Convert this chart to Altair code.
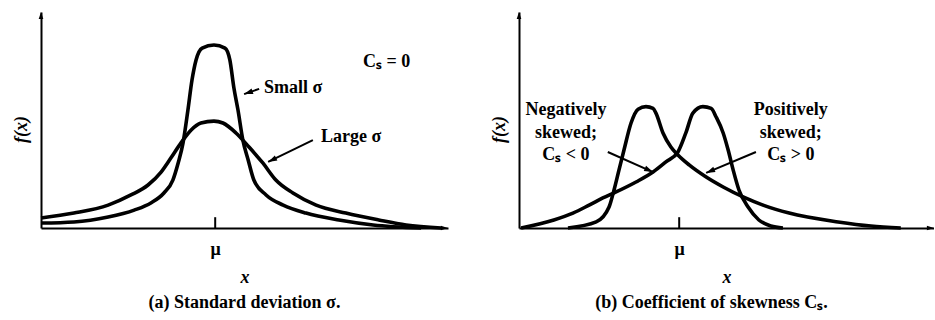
import altair as alt
import pandas as pd
import numpy as np

FONT = "Liberation Serif"

# ---------------- Panel (a): standard deviation ----------------
small_x = [0.0, 8.1, 16.5, 22.9, 27.0, 30.2, 32.4, 33.7, 34.9, 36.1, 37.1, 38.1, 39.6, 42.5,
           45.2, 46.4, 47.4, 48.4, 49.6, 50.9, 52.3, 55.3, 59.5, 65.1, 73.2, 81.6, 93.4]
small_y = [2.3, 2.8, 5.1, 8.3, 11.6, 16.2, 22.2, 30.1, 39.4, 54.6, 68.5, 77.8, 83.3, 84.7,
           83.3, 77.8, 64.8, 54.6, 40.7, 31.5, 22.2, 15.3, 10.6, 6.9, 3.7, 1.4, 0.0]
large_x = [0.0, 8.1, 16.5, 22.1, 26.3, 29.5, 31.9, 34.4, 36.9, 39.3, 42.5, 44.7, 47.9,
           51.1, 54.5, 57.7, 61.9, 67.6, 74.9, 83.0, 89.7, 98.3]
large_y = [4.6, 6.9, 10.6, 15.3, 19.9, 25.9, 32.4, 39.4, 45.4, 48.6, 49.5, 48.6, 44.0,
           37.5, 30.1, 22.2, 16.2, 10.6, 6.9, 3.7, 1.4, 0.0]
mu_a = 42.8

# ---------------- Panel (b): skewness ----------------
pos_x = [11.8, 18.6, 21.7, 22.9, 24.1, 25.3, 27.0, 28.7, 30.6, 32.3, 33.0, 34.7, 36.6,
         38.3, 41.0, 45.1, 49.2, 54.0, 58.8, 65.1, 76.9, 84.8, 92.0]
pos_y = [0.0, 2.8, 9.7, 17.6, 26.9, 36.1, 48.6, 55.0, 56.2, 55.4, 53.2, 44.0, 37.5,
         33.8, 29.2, 23.6, 19.0, 14.4, 10.6, 6.9, 2.8, 0.9, 0.0]
neg_x = [0.5, 8.4, 13.0, 16.9, 20.2, 23.4, 28.2, 32.3, 35.4, 38.3, 40.2, 41.9, 44.3,
         46.3, 47.5, 49.2, 50.4, 51.6, 53.0, 55.2, 57.8, 60.7, 63.6]
neg_y = [0.0, 3.7, 6.9, 10.6, 13.9, 16.7, 21.3, 25.9, 30.6, 35.2, 44.0, 53.2, 56.2,
         55.4, 51.4, 44.0, 36.1, 26.9, 17.6, 9.7, 3.7, 0.9, 0.0]
mu_b = 38.6

# annotation texts and anchors (data units)
a_text = ["Cₛ = 0", "Small σ", "Large σ"]
a_tx = [79.1, 54.8, 68.8]
a_ty = [76.9, 64.8, 42.1]
a_arrow_x1 = [53.6, 66.8]
a_arrow_y1 = [64.4, 40.7]
a_arrow_x2 = [49.9, 55.8]
a_arrow_y2 = [62.0, 30.6]

b_text = ["Negatively", "skewed;", "Cₛ < 0", "Positively", "skewed;", "Cₛ > 0"]
b_tx = [11.3, 11.3, 11.3, 65.5, 65.5, 65.5]
b_ty = [54.6, 44.0, 33.8, 54.6, 44.0, 33.8]
b_arrow_x1 = [21.4, 57.1]
b_arrow_y1 = [35.2, 35.2]
b_arrow_x2 = [32.3, 45.1]
b_arrow_y2 = [25.9, 25.5]

W_A, W_B, H = 407, 415, 216
HEAD = "M0,0L-0.55,1.7L0.55,1.7Z"

xs = alt.Scale(domain=[0, 100], nice=False, zero=False)
ys = alt.Scale(domain=[0, 100], nice=False, zero=False)


def xaxis(mu):
    return alt.Axis(values=[mu], labelExpr="'μ'", ticks=False, grid=False,
                    domainColor="black", domainWidth=2, labelFont=FONT,
                    labelFontWeight="bold", labelFontSize=18, labelColor="black",
                    labelPadding=12, title="x", titleFont=FONT, titleFontStyle="italic",
                    titleFontWeight="bold", titleFontSize=18, titleColor="black",
                    titlePadding=10)


yaxis = alt.Axis(labels=False, ticks=False, grid=False, domainColor="black",
                 domainWidth=2, title="f(x)", titleFont=FONT, titleFontStyle="italic",
                 titleFontWeight="bold", titleFontSize=18, titleColor="black",
                 titlePadding=11, titleY=117)


def arrows_df(x1, y1, x2, y2, w):
    d = pd.DataFrame({"x1": x1, "y1": y1, "x2": x2, "y2": y2})
    sx = (d.x2 - d.x1) * w / 100.0
    sy = (d.y2 - d.y1) * H / 100.0
    d["angle"] = np.degrees(np.arctan2(sx, sy)) % 360
    return d


def panel(curve_df, mu, texts, arrows, w, caption, tdx, text_align):
    base_x = alt.X("x:Q", scale=xs, axis=xaxis(mu))
    base_y = alt.Y("y:Q", scale=ys, axis=yaxis)
    curves = alt.Chart(curve_df).mark_line(
        color="black", strokeWidth=3.6, interpolate="monotone"
    ).encode(x=base_x, y=base_y, detail="curve:N", order="i:Q")

    tick = alt.Chart(pd.DataFrame({"x": [mu], "y": [0], "y2": [5]})).mark_rule(
        color="black", strokeWidth=2
    ).encode(x=alt.X("x:Q", scale=xs), y=alt.Y("y:Q", scale=ys), y2="y2:Q")

    axis_heads = alt.Chart(pd.DataFrame({"x": [0, 100], "y": [100, 0], "angle": [0, 90]})).mark_point(
        shape=HEAD, filled=True, color="black", opacity=1, size=70, strokeWidth=0
    ).encode(x=alt.X("x:Q", scale=xs), y=alt.Y("y:Q", scale=ys),
             angle=alt.Angle("angle:Q", scale=None))

    shafts = alt.Chart(arrows).mark_rule(color="black", strokeWidth=2).encode(
        x=alt.X("x1:Q", scale=xs), y=alt.Y("y1:Q", scale=ys), x2="x2:Q", y2="y2:Q")
    heads = alt.Chart(arrows).mark_point(
        shape=HEAD, filled=True, color="black", opacity=1, size=110, strokeWidth=0
    ).encode(x=alt.X("x2:Q", scale=xs), y=alt.Y("y2:Q", scale=ys),
             angle=alt.Angle("angle:Q", scale=None))

    labels = alt.Chart(texts).mark_text(
        font=FONT, fontWeight="bold", fontSize=18, color="black",
        align=text_align, baseline="middle"
    ).encode(x=alt.X("x:Q", scale=xs), y=alt.Y("y:Q", scale=ys), text="t:N")

    return alt.layer(curves, tick, axis_heads, shafts, heads, labels).properties(
        width=w, height=H,
        title=alt.TitleParams(caption, orient="bottom", anchor="middle", font=FONT,
                              fontSize=18, fontWeight="bold", color="black",
                              offset=8, dx=tdx),
    )


curve_a = pd.concat([
    pd.DataFrame({"x": small_x, "y": small_y, "curve": "small", "i": range(len(small_x))}),
    pd.DataFrame({"x": large_x, "y": large_y, "curve": "large", "i": range(len(large_x))}),
])
curve_b = pd.concat([
    pd.DataFrame({"x": pos_x, "y": pos_y, "curve": "pos", "i": range(len(pos_x))}),
    pd.DataFrame({"x": neg_x, "y": neg_y, "curve": "neg", "i": range(len(neg_x))}),
])

texts_a = pd.DataFrame({"t": a_text, "x": a_tx, "y": a_ty})
texts_b = pd.DataFrame({"t": b_text, "x": b_tx, "y": b_ty})

pa = panel(curve_a, mu_a, texts_a,
           arrows_df(a_arrow_x1, a_arrow_y1, a_arrow_x2, a_arrow_y2, W_A),
           W_A, "(a) Standard deviation σ.", 0, "left")
pb = panel(curve_b, mu_b, texts_b,
           arrows_df(b_arrow_x1, b_arrow_y1, b_arrow_x2, b_arrow_y2, W_B),
           W_B, "(b) Coefficient of skewness Cₛ.", -15, "center")

chart = alt.hconcat(pa, pb, spacing=71, bounds="flush").properties(
    padding={"left": 12, "top": 12, "right": 0, "bottom": 0},
    background="white",
).configure_view(stroke=None)

chart.save("out.html", embed_options={"renderer": "svg", "actions": False})
